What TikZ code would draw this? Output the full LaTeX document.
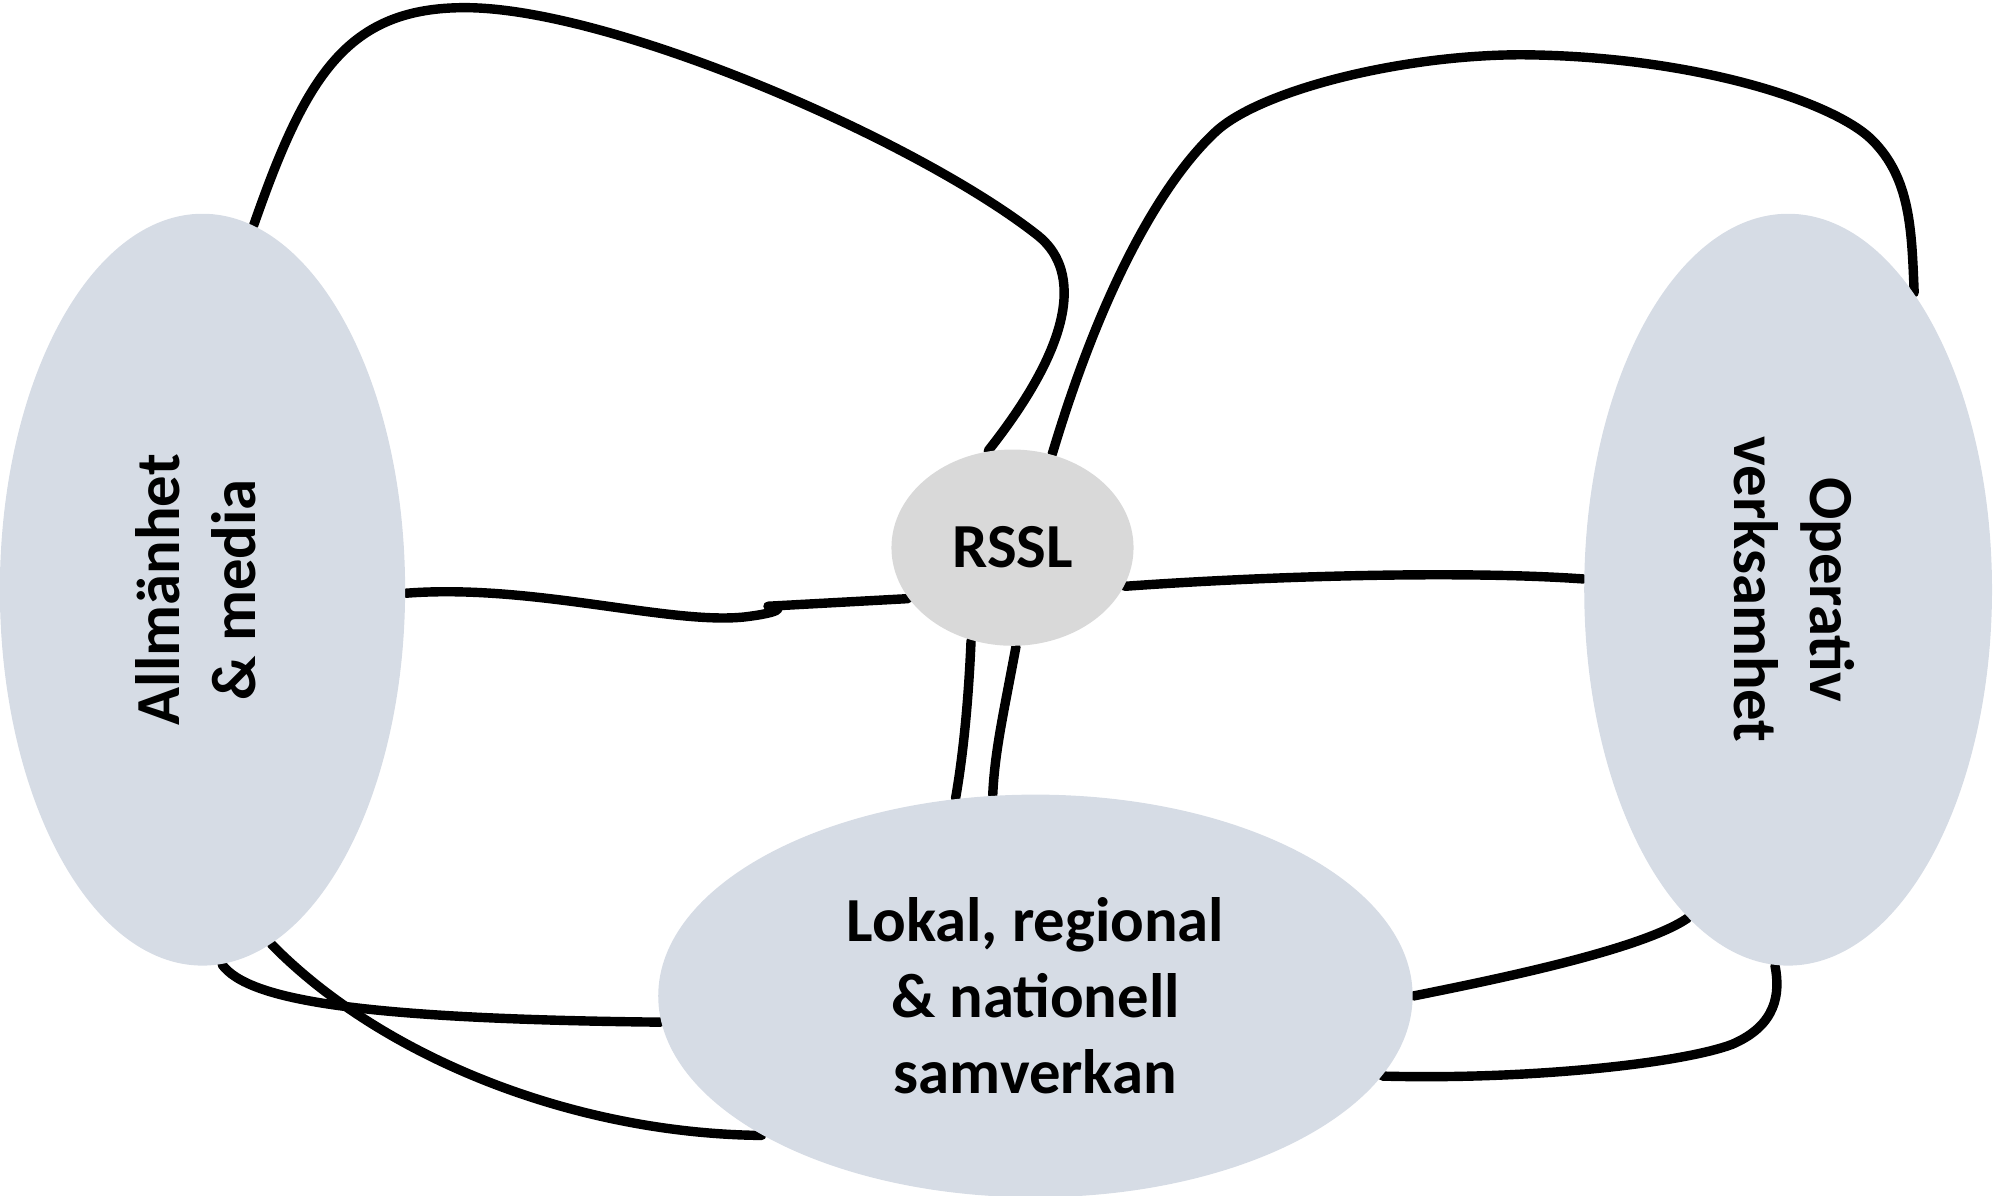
\documentclass[tikz,border=0pt]{standalone}
\usepackage{fontspec}
\setmainfont{Carlito}
\usetikzlibrary{shapes.geometric}
\pgfdeclarelayer{background}
\pgfsetlayers{background,main}
\definecolor{bluegray}{HTML}{D6DCE5}
\definecolor{rsslgray}{HTML}{D9D9D9}
\tikzset{
  blob/.style={ellipse, fill=bluegray, draw=none, inner sep=0pt, font=\fontsize{14}{17}\selectfont\bfseries, align=center},
  hub/.style={ellipse, fill=rsslgray, draw=none, inner sep=0pt, font=\fontsize{14}{17}\selectfont\bfseries},
  link/.style={draw=black, line width=2.1pt, line cap=round}
}
\begin{document}
\begin{tikzpicture}[x=0.01cm,y=-0.01cm]
\useasboundingbox (0,0) rectangle (1568,939);
% nodes
\node[blob, minimum width=3.18cm, minimum height=5.9cm] (A) at (159,463)
  {\rotatebox{90}{\begin{tabular}{@{}c@{}}Allmänhet\\ \& media\end{tabular}}};
\node[blob, minimum width=3.2cm, minimum height=5.9cm] (O) at (1404,463)
  {\rotatebox{-90}{\begin{tabular}{@{}c@{}}Operativ\\ verksamhet\end{tabular}}};
\node[hub, minimum width=1.9cm, minimum height=1.54cm] (R) at (795,430) {RSSL};
\node[blob, minimum width=5.92cm, minimum height=3.16cm] (L) at (813,782)
  {Lokal, regional\\ \& nationell\\ samverkan};
\coordinate (k1) at (611,478);
\coordinate (k2) at (603,476);
% connectors
\begin{pgfonlayer}{background}
\draw[link] (A.82) .. controls (240,60) and (272,6) .. (365,6)
  .. controls (480,6) and (720,110) .. (815,185)
  .. controls (845,209) and (850,260) .. (R.104);
\draw[link] (R.67) .. controls (870,210) and (920,135) .. (955,103)
  .. controls (990,71) and (1100,43) .. (1195,43)
  .. controls (1330,44) and (1440,80) .. (1470,110)
  .. controls (1500,140) and (1501,180) .. (O.67);
\draw[link] (A.-1) .. controls (420,458) and (530,492) .. (588,484)
  .. controls (603,482) and (610,480) .. (k1);
\draw[link] (k2) -- (R.206.6);
\draw[link] (R.-19.4) .. controls (1000,452) and (1150,448) .. (O.177);
\draw[link] (R.246.3) .. controls (760,560) and (755,600) .. (L.112.2);
\draw[link] (R.-88.5) .. controls (788,560) and (781,590) .. (L.102);
\draw[link] (A.-87.9) .. controls (195,785) and (280,800) .. (L.184.5);
\draw[link] (A.-79.5) .. controls (300,830) and (450,890) .. (L.207.3);
\draw[link] (L.0.8) .. controls (1180,768) and (1290,745) .. (O.253.4);
\draw[link] (L.-13.8) .. controls (1200,848) and (1320,835) .. (1360,820)
  .. controls (1395,805) and (1398,780) .. (O.268.8);
\end{pgfonlayer}
\end{tikzpicture}
\end{document}
